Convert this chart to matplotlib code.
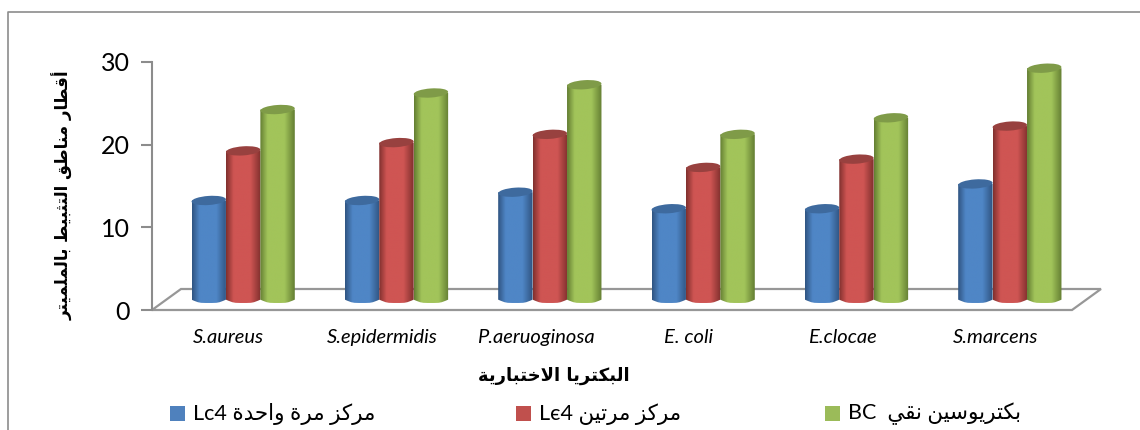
import numpy as np
import matplotlib
matplotlib.use('Agg')
import matplotlib.pyplot as plt
from matplotlib.patches import Ellipse, PathPatch, Polygon, Rectangle
from matplotlib.path import Path
from matplotlib.colors import LinearSegmentedColormap
from matplotlib.transforms import Affine2D

W, H = 1140, 430

categories = ['S.aureus', 'S.epidermidis', 'P.aeruoginosa', 'E. coli', 'E.clocae', 'S.marcens']
once = [12, 12, 13, 11, 11, 14]
twice = [18, 19, 20, 16, 17, 21]
pure = [23, 25, 26, 20, 22, 28]
yticks = [0, 10, 20, 30]

ylabel_ar = 'أقطار مناطق التثبيط بالملميتر'
xlabel_ar = 'البكتريا الاختبارية'
legend_ar = ['مركز مرة واحدة', 'مركز مرتين', 'بكتريوسين نقي']
legend_en = ['Lc4', 'Lє4', 'BC ']

# (edge, mid, top) shades for each cylinder
shades = [('#2f5380', '#4f86c6', '#3e6a9e'),
          ('#7f2f2d', '#cf5553', '#98413f'),
          ('#637d32', '#a2c45a', '#7f9b48')]
legend_colors = ['#4f81bd', '#c0504d', '#9bbb59']

# isolated, final, initial, medial presentation forms
FORMS = {
    'ا': 'ﺍﺎ', 'أ': 'ﺃﺄ', 'د': 'ﺩﺪ', 'ذ': 'ﺫﺬ', 'ر': 'ﺭﺮ', 'ز': 'ﺯﺰ', 'و': 'ﻭﻮ', 'ة': 'ﺓﺔ',
    'ب': 'ﺏﺐﺑﺒ', 'ت': 'ﺕﺖﺗﺘ', 'ث': 'ﺙﺚﺛﺜ', 'ج': 'ﺝﺞﺟﺠ', 'ح': 'ﺡﺢﺣﺤ', 'خ': 'ﺥﺦﺧﺨ',
    'س': 'ﺱﺲﺳﺴ', 'ط': 'ﻁﻂﻃﻄ', 'ق': 'ﻕﻖﻗﻘ', 'ك': 'ﻙﻚﻛﻜ', 'ل': 'ﻝﻞﻟﻠ', 'م': 'ﻡﻢﻣﻤ',
    'ن': 'ﻥﻦﻧﻨ', 'ي': 'ﻱﻲﻳﻴ',
}
LAM_ALEF = {'ا': 'ﻻﻼ', 'أ': 'ﻷﻸ'}


def shape(text):
    # matplotlib has no Arabic layout, so join letters by hand and lay them out right to left
    out = []
    i = 0
    joins = False
    while i < len(text):
        c = text[i]
        if c not in FORMS:
            out.append(c)
            joins = False
            i += 1
            continue
        nxt = text[i + 1] if i + 1 < len(text) else ' '
        if c == 'ل' and nxt in LAM_ALEF:
            out.append(LAM_ALEF[nxt][1 if joins else 0])
            joins = False
            i += 2
            continue
        forms = FORMS[c]
        next_joins = len(forms) == 4 and nxt in FORMS
        if len(forms) == 2:
            out.append(forms[1 if joins else 0])
        elif joins and next_joins:
            out.append(forms[3])
        elif joins:
            out.append(forms[1])
        elif next_joins:
            out.append(forms[2])
        else:
            out.append(forms[0])
        joins = next_joins
        i += 1
    return ''.join(reversed(out))


fig = plt.figure(figsize=(W / 100, H / 100), dpi=100)
ax = fig.add_axes([152 / W, 1 - 310 / H, 920 / W, 248 / H])
ax.set_xlim(-0.5, 5.5)
ax.set_ylim(0, 30)
ax.autoscale(False)
ax.patch.set_visible(False)
for side in ['top', 'right', 'bottom']:
    ax.spines[side].set_visible(False)
ax.spines['left'].set_color('#8c8c8c')
ax.spines['left'].set_linewidth(1.5)
ax.set_xticks([])
ax.set_yticks(yticks)
ax.tick_params(axis='y', length=8, width=1.5, color='#8c8c8c', pad=8)
for lab in ax.get_yticklabels():
    lab.set_fontfamily('Lato')
    lab.set_fontsize(18)
    lab.set_color('black')

# floor of the 3d box
depth_x, depth_y = 0.189, 2.54
floor = Polygon([(-0.5, 0), (5.5, 0), (5.5 + depth_x, depth_y), (-0.5 + depth_x, depth_y)],
                closed=True, fill=False, edgecolor='#979797', linewidth=1.6, clip_on=False, zorder=1)
ax.add_patch(floor)

bar_w = 0.2245
cap_h = 1.1
foot_h = 0.8
base_y = 1.25
gradient = np.linspace(0, 1, 256).reshape(1, -1)


def cylinder(xc, value, shade, z):
    top = base_y + value
    x0, x1 = xc - bar_w / 2, xc + bar_w / 2
    k = 0.5523
    ry = foot_h / 2
    rx = bar_w / 2
    verts = [(x0, top), (x0, base_y),
             (x0 + rx * (1 - k), base_y - ry), (xc - rx * k, base_y - ry), (xc, base_y - ry),
             (xc + rx * k, base_y - ry), (x1 - rx * (1 - k), base_y - ry), (x1, base_y),
             (x1, top), (x0, top)]
    codes = [Path.MOVETO, Path.LINETO, Path.CURVE4, Path.CURVE4, Path.CURVE4,
             Path.CURVE4, Path.CURVE4, Path.CURVE4, Path.LINETO, Path.CLOSEPOLY]
    cmap = LinearSegmentedColormap.from_list('cyl', [(0, shade[0]), (0.22, shade[1]), (0.7, shade[1]), (1, shade[0])])
    img = ax.imshow(gradient, extent=(x0, x1, base_y - ry, top), aspect='auto', cmap=cmap,
                    zorder=z, interpolation='bilinear')
    img.set_clip_path(PathPatch(Path(verts, codes), transform=ax.transData))
    # the cap leans a little, as on a tilted 3d view
    px, py = ax.transData.transform((xc, top))
    tilt = Affine2D().rotate_deg_around(px, py, 4)
    ax.add_patch(Ellipse((xc, top), bar_w, cap_h, facecolor=shade[2], edgecolor='none',
                         zorder=z + 0.1, clip_on=False, transform=ax.transData + tilt))


for i in range(len(categories)):
    for j, series in enumerate([once, twice, pure]):
        xc = i + depth_x / 2 + (j - 1) * bar_w
        cylinder(xc, series[i], shades[j], 2 + j)
    ax.text(i, -3.3, categories[i], ha='center', va='center', fontsize=14.5,
            style='italic', family='Lato', color='black')

# outer frame of the chart, open to the right and at the bottom
fig.add_artist(plt.Line2D([8 / W, 8 / W, 1], [0, 1 - 12 / H, 1 - 12 / H],
                          color='#8c8c8c', linewidth=1.2))

fig.text(63 / W, 1 - 195 / H, shape(ylabel_ar), rotation=90, ha='center', va='center',
         fontsize=12, fontweight='bold', family='DejaVu Sans', color='black')
fig.text(554 / W, 1 - 376 / H, shape(xlabel_ar), ha='center', va='center',
         fontsize=13, fontweight='bold', family='DejaVu Sans', color='black')

legend_x = [170, 516, 825]
for x, color, en, ar in zip(legend_x, legend_colors, legend_en, legend_ar):
    fig.add_artist(Rectangle((x / W, 1 - 421 / H), 15 / W, 15 / H, facecolor=color, edgecolor='none',
                             transform=fig.transFigure))
    fig.text((x + 23) / W, 1 - 414 / H, en + ' ' + shape(ar), ha='left', va='center', fontsize=15.5,
             family=['Lato', 'DejaVu Sans'], color='black')

fig.savefig('out.png', dpi=100)
